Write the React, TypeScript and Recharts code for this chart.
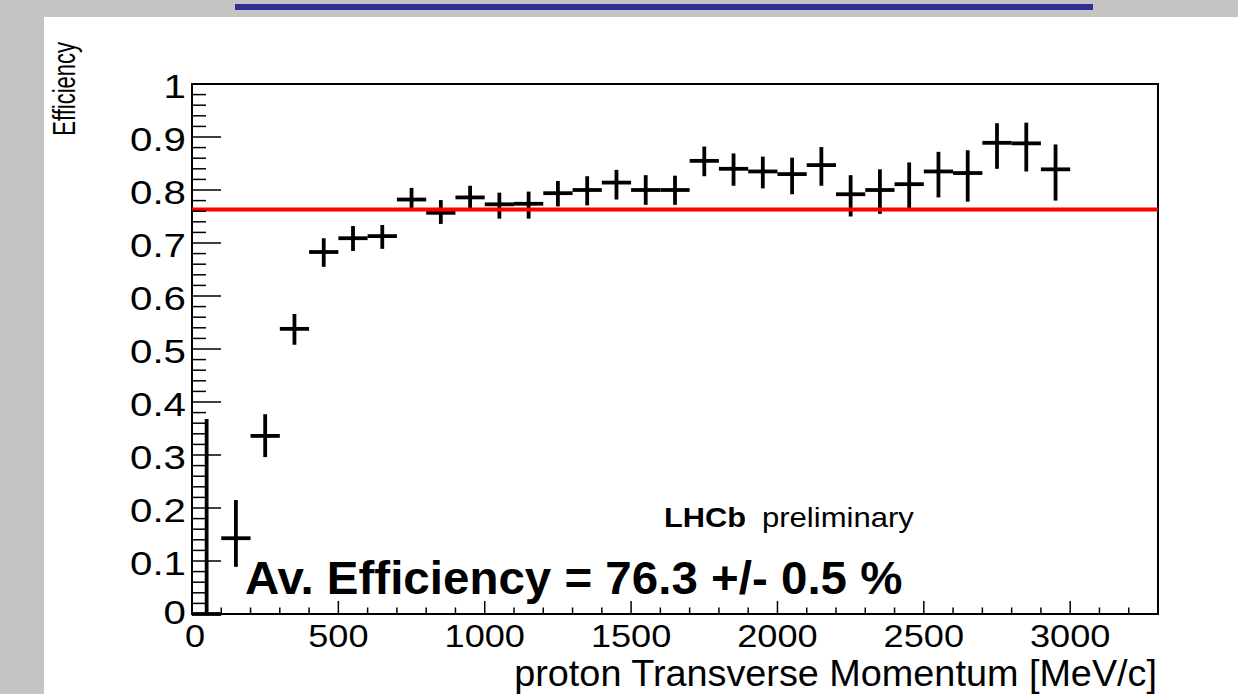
import React from 'react';
import {
  ComposedChart,
  Scatter,
  XAxis,
  YAxis,
  ErrorBar,
  ReferenceLine,
  ReferenceArea,
} from 'recharts';

const FONT = '"Liberation Sans", Arial, Helvetica, sans-serif';

// Bin centres of proton transverse momentum [MeV/c]
const binCenters = [
  50, 150, 250, 350, 450, 550, 650, 750, 850, 950,
  1050, 1150, 1250, 1350, 1450, 1550, 1650, 1750, 1850, 1950,
  2050, 2150, 2250, 2350, 2450, 2550, 2650, 2750, 2850, 2950,
];
// Efficiency per bin
const efficiency = [
  0.0, 0.143, 0.336, 0.538, 0.683, 0.709, 0.713, 0.782, 0.757, 0.786,
  0.773, 0.774, 0.794, 0.8, 0.814, 0.8, 0.8, 0.855, 0.84, 0.835,
  0.83, 0.847, 0.792, 0.8, 0.811, 0.835, 0.832, 0.889, 0.888, 0.839,
];
// Lower / upper errors
const errDown = [
  0.0, 0.054, 0.04, 0.03, 0.028, 0.024, 0.024, 0.018, 0.021, 0.022,
  0.027, 0.028, 0.025, 0.029, 0.032, 0.028, 0.028, 0.029, 0.032, 0.032,
  0.038, 0.039, 0.042, 0.045, 0.045, 0.049, 0.054, 0.049, 0.053, 0.059,
];
const errUp = [
  0.368, 0.072, 0.041, 0.028, 0.026, 0.023, 0.021, 0.022, 0.024, 0.022,
  0.022, 0.023, 0.023, 0.026, 0.024, 0.028, 0.027, 0.027, 0.029, 0.028,
  0.031, 0.034, 0.036, 0.039, 0.041, 0.037, 0.043, 0.037, 0.039, 0.047,
];
const binHalfWidths = [
  50, 50, 50, 50, 50, 50, 50, 50, 50, 50,
  50, 50, 50, 50, 50, 50, 50, 50, 50, 50,
  50, 50, 50, 50, 50, 50, 50, 50, 50, 50,
];

const averageEfficiency = 0.763;

const yMajorTicks = [0, 0.1, 0.2, 0.3, 0.4, 0.5, 0.6, 0.7, 0.8, 0.9, 1];
const yMinorTicks = Array.from({ length: 51 }, (_, i) => Math.round(i * 2) / 100);
const xMajorTicks = [0, 500, 1000, 1500, 2000, 2500, 3000];
const xMinorTicks = Array.from({ length: 34 }, (_, i) => i * 100);

const data = binCenters.map((x, i) => ({
  x,
  y: efficiency[i],
  yErr: [errDown[i], errUp[i]],
  xErr: binHalfWidths[i],
}));

const isIn = (arr: number[], v: number) => arr.some((m) => Math.abs(m - v) < 1e-9);

const YTick = (props: any) => {
  const { x, y, payload } = props;
  const v = payload.value as number;
  const major = isIn(yMajorTicks, v);
  return (
    <g>
      <line x1={x} x2={x + (major ? 29 : 14)} y1={y} y2={y} stroke="#000" strokeWidth={1.5} />
      {major && (
        <text
          transform={`translate(${x - 6},${y + (v === 0 ? 10 : 14)}) scale(1.22,1)`}
          textAnchor="end"
          fontSize={33}
          fontFamily={FONT}
          fill="#000"
        >
          {String(Math.round(v * 10) / 10)}
        </text>
      )}
    </g>
  );
};

const XTick = (props: any) => {
  const { x, y, payload } = props;
  const v = payload.value as number;
  const major = isIn(xMajorTicks, v);
  return (
    <g>
      <line x1={x} x2={x} y1={y} y2={y - (major ? 13 : 6.5)} stroke="#000" strokeWidth={1.5} />
      {major && (
        <text
          transform={`translate(${x + (v === 0 ? 3 : 0)},${y + 33}) scale(1.13,1)`}
          textAnchor="middle"
          fontSize={32}
          fontFamily={FONT}
          fill="#000"
        >
          {String(v)}
        </text>
      )}
    </g>
  );
};

export default function App() {
  return (
    <div
      style={{
        position: 'absolute',
        left: 0,
        top: 0,
        width: 1238,
        height: 694,
        background: '#c4c4c4',
        overflow: 'hidden',
      }}
    >
      <div
        style={{
          position: 'absolute',
          left: 235,
          top: 4,
          width: 858,
          height: 6,
          background: '#2e3192',
        }}
      />
      <div
        style={{
          position: 'absolute',
          left: 44,
          top: 17,
          width: 1194,
          height: 677,
          background: '#ffffff',
        }}
      >
        <ComposedChart
          width={1194}
          height={677}
          data={data}
          margin={{ top: 67, right: 80, bottom: 0, left: 0 }}
        >
          <XAxis
            dataKey="x"
            type="number"
            domain={[0, 3300]}
            ticks={xMinorTicks}
            interval={0}
            tickSize={0}
            tickMargin={0}
            height={80}
            axisLine={false}
            tickLine={false}
            tick={(p: any) => <XTick {...p} />}
            allowDataOverflow
          />
          <YAxis
            dataKey="y"
            type="number"
            domain={[0, 1]}
            ticks={yMinorTicks}
            interval={0}
            tickSize={0}
            tickMargin={0}
            width={148}
            axisLine={false}
            tickLine={false}
            tick={(p: any) => <YTick {...p} />}
            allowDataOverflow
          />
          <ReferenceArea
            x1={0}
            x2={3300}
            y1={0}
            y2={1}
            fill="none"
            fillOpacity={0}
            stroke="#000"
            strokeWidth={2}
          />
          <Scatter
            dataKey="y"
            data={data}
            isAnimationActive={false}
            shape={() => <g />}
          >
            <ErrorBar dataKey="yErr" direction="y" width={0} stroke="#000" strokeWidth={3.8} />
            <ErrorBar dataKey="xErr" direction="x" width={0} stroke="#000" strokeWidth={3.8} />
          </Scatter>
          <ReferenceLine y={averageEfficiency} stroke="#ff0000" strokeWidth={4} />
        </ComposedChart>
      </div>
      <svg
        width={1238}
        height={694}
        style={{ position: 'absolute', left: 0, top: 0, pointerEvents: 'none' }}
      >
        <text
          transform="translate(75,42) rotate(-90) scale(1,1.4)"
          textAnchor="end"
          fontSize={22}
          fontFamily={FONT}
          fill="#000"
        >
          Efficiency
        </text>
        <text
          transform="translate(1157,686) scale(1.05,1)"
          textAnchor="end"
          fontSize={36}
          fontFamily={FONT}
          fill="#000"
        >
          proton Transverse Momentum [MeV/c]
        </text>
        <text
          transform="translate(245,594) scale(1.033,1)"
          fontSize={46}
          fontWeight="bold"
          fontFamily={FONT}
          fill="#000"
        >
          Av. Efficiency = 76.3 +/- 0.5 %
        </text>
        <text
          transform="translate(664,527) scale(1.14,1)"
          fontSize={27}
          fontWeight="bold"
          fontFamily={FONT}
          fill="#000"
        >
          LHCb
        </text>
        <text
          transform="translate(762,527) scale(1.15,1)"
          fontSize={27}
          fontFamily={FONT}
          fill="#000"
        >
          preliminary
        </text>
      </svg>
    </div>
  );
}
